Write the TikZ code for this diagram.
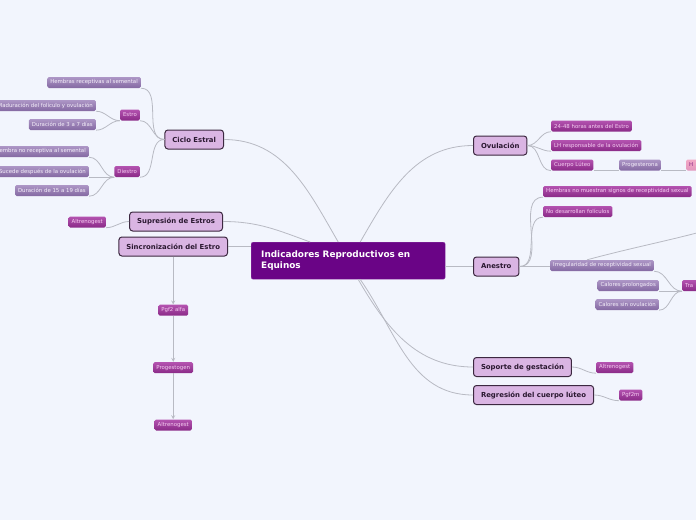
\documentclass[tikz,border=0pt]{standalone}
\usepackage{fontspec}
\setmainfont{DejaVu Sans}
\usepackage{tikz}
\usetikzlibrary{arrows, positioning}
\definecolor{bgcol}{HTML}{F2F5FD}
\definecolor{rootfill}{HTML}{6A0486}
\definecolor{rootline}{HTML}{8E3FA6}
\definecolor{topicfill}{HTML}{DAB5E3}
\definecolor{topicline}{HTML}{3C2840}
\definecolor{topictext}{HTML}{2A1830}
\definecolor{magtop}{HTML}{B453B0}
\definecolor{magbot}{HTML}{8A2A87}
\definecolor{magtext}{HTML}{F6CDF2}
\definecolor{greytop}{HTML}{AD96C6}
\definecolor{greybot}{HTML}{8469A2}
\definecolor{greytext}{HTML}{F5EFFA}
\definecolor{pinkfill}{HTML}{F3A9C6}
\definecolor{linkcol}{HTML}{B8BAC3}

\begin{document}
\begin{tikzpicture}[
    x=1pt, y=1pt,
    node distance=46pt,
    root/.style={rectangle, rounded corners=2pt, draw=rootline, fill=rootfill, text=white, font=\bfseries\fontsize{8.9}{10.5}\selectfont, text width=174pt, inner xsep=10pt, minimum height=37pt, align=left},
    topic/.style={rectangle, rounded corners=3pt, draw=topicline, line width=1pt, fill=topicfill, text=topictext, font=\bfseries\fontsize{6.9}{7.5}\selectfont, minimum height=19pt, inner xsep=7.5pt, inner ysep=0pt},
    leafm/.style={rectangle, rounded corners=1.5pt, top color=magtop, bottom color=magbot, text=magtext, font=\fontsize{5.4}{5.6}\selectfont, minimum height=11pt, inner xsep=3pt, inner ysep=0pt},
    leafg/.style={leafm, top color=greytop, bottom color=greybot, text=greytext},
    leafp/.style={leafm, top color=pinkfill, bottom color=pinkfill!85!magbot, text=magbot},
    link/.style={draw=linkcol, line width=0.8pt},
    arrow/.style={link, ->, >=stealth}
]
    \useasboundingbox (0,0) rectangle (696,-520);
    \clip (0,0) rectangle (696,-520);
    \fill[bgcol] (0,0) rectangle (696,-520);

    % centre and main topics
    \node[root, anchor=north west] (main) at (251,-242) {Indicadores Reproductivos en\\Equinos};
    \node[topic, anchor=east] (ciclo) at (224,-139.5) {Ciclo Estral};
    \node[topic, anchor=east] (supr) at (223,-221.5) {Supresión de Estros};
    \node[topic, anchor=east] (sinc) at (228,-246.5) {Sincronización del Estro};
    \node[topic, anchor=west] (ovul) at (473,-145.5) {Ovulación};
    \node[topic, anchor=west] (anes) at (473,-266.5) {Anestro};
    \node[topic, anchor=west] (sopo) at (473,-367) {Soporte de gestación};
    \node[topic, anchor=west] (regr) at (473,-395) {Regresión del cuerpo lúteo};

    % left branches
    \node[leafg, anchor=east] (hrec) at (141,-82.5) {Hembras receptivas al semental};
    \node[leafm, anchor=east] (estro) at (140,-115) {Estro};
    \node[leafm, anchor=east] (diest) at (140,-171.5) {Diestro};
    \node[leafg, anchor=east] (madu) at (96,-105.5) {Maduración del folículo y ovulación};
    \node[leafg, anchor=east] (dur37) at (96,-124.5) {Duración de 3 a 7 días};
    \node[leafg, anchor=east] (hnrec) at (89,-151.5) {Hembra no receptiva al semental};
    \node[leafg, anchor=east] (suce) at (89,-171.5) {Sucede después de la ovulación};
    \node[leafg, anchor=east] (dur15) at (89,-190.5) {Duración de 15 a 19 días};
    \node[leafm, anchor=east] (altsup) at (106,-222) {Altrenogest};

    \node[leafm, below=48pt of sinc] (pgf) {Pgf2 alfa};
    \node[leafm, below=of pgf] (progn) {Progestogen};
    \node[leafm, below=of progn] (altsin) {Altrenogest};

    % right branches
    \node[leafm, anchor=west] (h2448) at (551,-126) {24-48 horas antes del Estro};
    \node[leafm, anchor=west] (lhre) at (551,-145.5) {LH responsable de la ovulación};
    \node[leafm, anchor=west] (cuer) at (551,-165) {Cuerpo Lúteo};
    \node[leafg, anchor=west] (proge) at (619,-165) {Progesterona};
    \node[leafp, anchor=west, text width=34pt, align=left] (hpink) at (686,-165) {H};
    \node[leafm, anchor=west] (hnomu) at (543,-191.5) {Hembras no muestran signos de receptividad sexual};
    \node[leafm, anchor=west] (nodes) at (543,-211.5) {No desarrollan folículos};
    \node[leafg, anchor=west] (irreg) at (550,-265.5) {Irregularidad de receptividad sexual};
    \node[leafg, anchor=east] (calp) at (659,-285.5) {Calores prolongados};
    \node[leafg, anchor=east] (cals) at (659,-304.5) {Calores sin ovulación};
    \node[leafm, anchor=west, text width=30pt, align=left] (tra) at (682,-285.5) {Tra};
    \node[leafm, anchor=west] (altsop) at (596,-367.5) {Altrenogest};
    \node[leafm, anchor=west] (pgf2m) at (619,-395) {Pgf2m};
    \coordinate (offr) at (712,-229);

    % connectors
    \draw[link] (ciclo.east) to[out=0,in=120] ([xshift=-10pt]main.north);
    \draw[link] ([xshift=12pt]main.north) to[out=60,in=180] (ovul.west);
    \draw[link] (supr.east) to[out=0,in=160] ([xshift=-38pt]main.north);
    \draw[link] (sinc.east) -- (sinc.east -| main.west);
    \draw[link] (main.east |- anes.west) -- (anes.west);
    \draw[link] ([xshift=10pt]main.south) to[out=-60,in=180] (sopo.west);
    \draw[link] ([xshift=12pt]main.south) to[out=-55,in=180] (regr.west);

    \draw[link] (ciclo.west) to[out=180,in=0] (hrec.south east);
    \draw[link] (ciclo.west) to[out=180,in=0] (estro.south east);
    \draw[link] (ciclo.west) to[out=180,in=0] (diest.south east);
    \draw[link] (estro.south west) to[out=180,in=0] (madu.south east);
    \draw[link] (estro.south west) to[out=180,in=0] (dur37.south east);
    \draw[link] (diest.south west) to[out=180,in=0] (hnrec.south east);
    \draw[link] (diest.south west) to[out=180,in=0] (suce.south east);
    \draw[link] (diest.south west) to[out=180,in=0] (dur15.south east);
    \draw[link] (supr.west) to[out=180,in=0] (altsup.south east);

    \draw[arrow] (sinc.south) -- (pgf.north);
    \draw[arrow] (pgf.south) -- (progn.north);
    \draw[arrow] (progn.south) -- (altsin.north);

    \draw[link] (ovul.east) to[out=0,in=180] (h2448.south west);
    \draw[link] (ovul.east) to[out=0,in=180] (lhre.south west);
    \draw[link] (ovul.east) to[out=0,in=180] (cuer.south west);
    \draw[link] (cuer.south east) -- (proge.south west);
    \draw[link] (proge.south east) -- (hpink.south west);
    \draw[link] (anes.east) to[out=0,in=180] (hnomu.south west);
    \draw[link] (anes.east) to[out=0,in=180] (nodes.south west);
    \draw[link] (anes.east) -- (anes.east -| irreg.west);
    \draw[link] ([xshift=-15pt]irreg.north) to[out=15,in=195] (offr);
    \draw[link] (tra.south west) to[out=180,in=0] (irreg.south east);
    \draw[link] (tra.south west) to[out=180,in=0] (calp.south east);
    \draw[link] (tra.south west) to[out=180,in=0] (cals.south east);
    \draw[link] (sopo.east) to[out=0,in=180] (altsop.south west);
    \draw[link] (regr.east) to[out=0,in=180] (pgf2m.south west);
\end{tikzpicture}
\end{document}
